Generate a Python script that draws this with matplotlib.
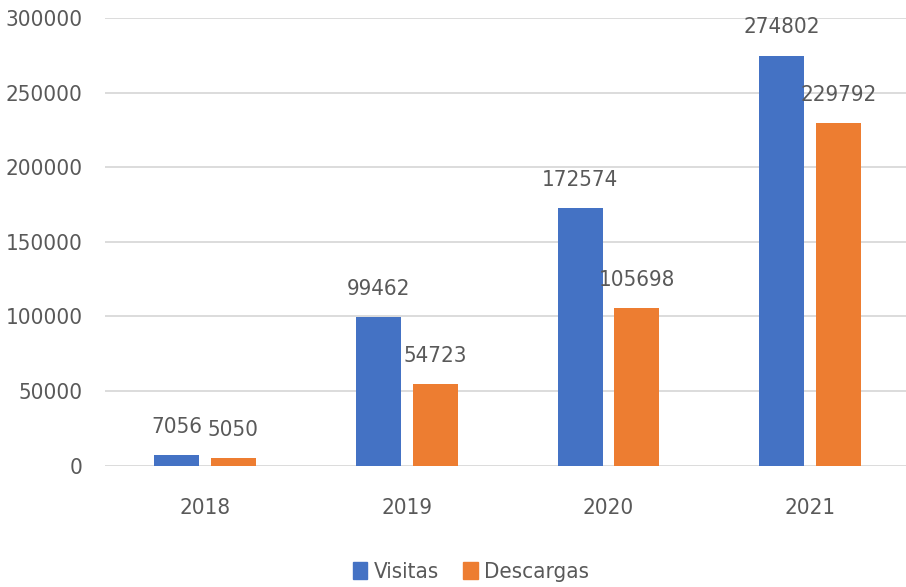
import matplotlib
matplotlib.use("Agg")
import matplotlib.pyplot as plt
from matplotlib import font_manager
from matplotlib.patches import Patch

# data
years = ["2018", "2019", "2020", "2021"]
visitas = [7056, 99462, 172574, 274802]
descargas = [5050, 54723, 105698, 229792]
series_names = ["Visitas", "Descargas"]
yticks = [0, 50000, 100000, 150000, 200000, 250000, 300000]

blue = "#4472C4"
orange = "#ED7D31"
text_col = "#595959"

# look for a narrow face (the reference uses a condensed font)
narrow = None
for f in font_manager.fontManager.ttflist:
    s = str(f.stretch).lower()
    if ("condensed" in s or "narrow" in f.name.lower() or "condensed" in f.name.lower()
            or s in ("semi-condensed", "condensed", "extra-condensed")) \
            and f.style == "normal" and f.weight in (400, "normal", "regular"):
        narrow = f
        break

if narrow is not None:
    font_manager.fontManager.addfont(narrow.fname)
    plt.rcParams["font.family"] = [narrow.name, "DejaVu Sans"]
    plt.rcParams["font.stretch"] = narrow.stretch
    fs = 16
else:
    plt.rcParams["font.family"] = ["Roboto", "DejaVu Sans"]
    fs = 15.5

fig = plt.figure(figsize=(9.06, 5.87), dpi=100)
ax = fig.add_axes([105 / 906, 1 - 465.7 / 587, 801 / 906, 447.7 / 587])

x = list(range(len(years)))
w = 0.223
off = 0.141
b1 = ax.bar([i - off for i in x], visitas, w, color=blue, zorder=3)
b2 = ax.bar([i + off for i in x], descargas, w, color=orange, zorder=3)

for bars, vals in ((b1, visitas), (b2, descargas)):
    for r, v in zip(bars, vals):
        ax.annotate(str(v), (r.get_x() + r.get_width() / 2, v),
                    xytext=(0, 16), textcoords="offset points",
                    ha="center", va="baseline", fontsize=fs, color=text_col)

ax.set_xlim(-0.496, 3.475)
ax.set_ylim(0, 300000)
ax.set_yticks(yticks)
ax.set_yticklabels([str(t) for t in yticks])
ax.set_xticks(x)
ax.set_xticklabels(years)
ax.tick_params(axis="both", length=0, labelsize=fs, labelcolor=text_col)
ax.tick_params(axis="y", pad=16)
ax.tick_params(axis="x", pad=23)
ax.grid(axis="y", color="#D9D9D9", linewidth=1.3, zorder=0)
for s in ax.spines.values():
    s.set_visible(False)

handles = [Patch(color=blue), Patch(color=orange)]
fig.legend(handles, series_names, loc="center", ncol=2, frameon=False,
           bbox_to_anchor=(471 / 906, 1 - 572 / 587), fontsize=fs,
           labelcolor=text_col, handlelength=0.65, handleheight=0.85,
           handletextpad=0.3, columnspacing=1.1)

fig.savefig("out.png", dpi=100)
